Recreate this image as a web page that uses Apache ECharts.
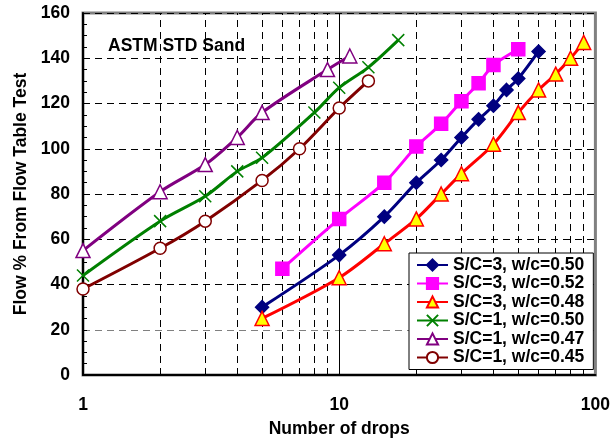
<!DOCTYPE html>
<html>
<head>
<meta charset="utf-8">
<script src="https://cdn.jsdelivr.net/npm/echarts@6/dist/echarts.min.js"></script>
<style>
html,body{margin:0;padding:0;background:#fff;}
#c{width:613px;height:443px;}
</style>
</head>
<body>
<div id="c"></div>
<script>
// ---- data ----
var seriesNames = ['S/C=3, w/c=0.50','S/C=3, w/c=0.52','S/C=3, w/c=0.48','S/C=1, w/c=0.50','S/C=1, w/c=0.47','S/C=1, w/c=0.45'];
var sc3_050_x = [5,10,15,20,25,30,35,40,45,50,60];
var sc3_050_y = [30,53,70,85,95,105,113,119,126,131,143];
var sc3_052_x = [6,10,15,20,25,30,35,40,50];
var sc3_052_y = [47,69,85,101,111,121,129,137,144];
var sc3_048_x = [5,10,15,20,25,30,40,50,60,70,80,90];
var sc3_048_y = [25,43,58,69,80,89,102,116,126,133,140,147];
var sc1_050_x = [1,2,3,4,5,8,10,13,17];
var sc1_050_y = [44,68,79,90,96,116,127,136,148];
var sc1_047_x = [1,2,3,4,5,9,11];
var sc1_047_y = [55,81,93,105,116,135,141];
var sc1_045_x = [1,2,3,5,7,10,13];
var sc1_045_y = [38,56,68,86,100,118,130];
var minorGridX = [2,3,4,5,6,7,8,9,20,30,40,50,60,70,80,90];

function pairs(xs, ys){ return xs.map(function(x,i){ return [x, ys[i]]; }); }

var FONT = 'Arial, "Liberation Sans", sans-serif';
var FS = 17.5;

var chart = echarts.init(document.getElementById('c'), null, {renderer:'canvas'});

var gridMarks = minorGridX.map(function(v){ return {xAxis:v}; });

var crossPath = 'path://M0,0L10,10M10,0L0,10';

function lineSeries(name, xs, ys, color, symbol, size, fill, lw){
  return {
    name: name, type:'line', data: pairs(xs, ys), smooth: 0.3,
    symbol: symbol, symbolSize: size, showSymbol: true,
    lineStyle: {color: color, width: lw},
    itemStyle: {color: fill, borderColor: color, borderWidth: 1.5},
    z: 5
  };
}

var option = {
  backgroundColor: '#fff',
  animation: false,
  textStyle: {fontFamily: FONT},
  title: {
    text: 'ASTM STD Sand', left: 103, top: 32,
    textStyle: {fontSize: FS, fontWeight: 'bold', color: '#000', fontFamily: FONT}
  },
  grid: {left: 83, right: 15, top: 13, bottom: 68, show: true, borderColor: '#808080', borderWidth: 3, backgroundColor: 'transparent'},
  legend: {
    orient: 'vertical', left: 409, top: 253, z: 20,
    backgroundColor: '#fff', borderColor: '#000', borderWidth: 1,
    padding: [3, 9, 3, 7], itemGap: 0.5, itemWidth: 31, itemHeight: 14,
    textStyle: {fontSize: FS, fontWeight: 'bold', color: '#000', fontFamily: FONT, overflow: 'none'},
    data: seriesNames
  },
  xAxis: {
    type: 'log', logBase: 10, min: 1, max: 100,
    name: 'Number of drops', nameLocation: 'middle', nameGap: 45,
    nameTextStyle: {fontSize: FS, fontWeight: 'bold', color: '#000', fontFamily: FONT},
    axisLine: {show: true, lineStyle: {color: '#000', width: 2}},
    axisTick: {show: false},
    axisLabel: {fontSize: FS, fontWeight: 'bold', color: '#000', margin: 21, fontFamily: FONT},
    splitLine: {show: false},
    minorTick: {show: false}, minorSplitLine: {show: false}
  },
  yAxis: {
    type: 'value', min: 0, max: 160, interval: 20,
    name: 'Flow % From Flow Table Test', nameLocation: 'middle', nameGap: 51,
    nameTextStyle: {fontSize: FS, fontWeight: 'bold', color: '#000', fontFamily: FONT},
    axisLine: {show: true, lineStyle: {color: '#000', width: 2}},
    axisTick: {show: true, inside: true, length: 4, lineStyle: {color: '#000'}},
    minorTick: {show: true, splitNumber: 4, length: 4, lineStyle: {color: '#000'}},
    axisLabel: {fontSize: FS, fontWeight: 'bold', color: '#000', margin: 13, fontFamily: FONT},
    splitLine: {show: true, lineStyle: {color: ['#000','#808080','#000','#000','#000','#000','#000','#000','#000'], type: [7,5], width: 1}}
  },
  series: [
    lineSeries(seriesNames[0], sc3_050_x, sc3_050_y, '#000080', 'diamond', 13, '#000080', 3),
    lineSeries(seriesNames[1], sc3_052_x, sc3_052_y, '#FF00FF', 'rect', 13, '#FF00FF', 3),
    lineSeries(seriesNames[2], sc3_048_x, sc3_048_y, '#FF0000', 'triangle', 14, '#FFFF00', 3),
    lineSeries(seriesNames[3], sc1_050_x, sc1_050_y, '#008000', crossPath, 12, '#008000', 3),
    lineSeries(seriesNames[4], sc1_047_x, sc1_047_y, '#800080', 'triangle', 14, '#fff', 3),
    lineSeries(seriesNames[5], sc1_045_x, sc1_045_y, '#800000', 'circle', 12, '#fff', 3),
    {
      name: '_grid', type: 'line', data: [], z: 1, silent: true,
      markLine: {
        z: 1, silent: true, symbol: ['none','none'], label: {show: false},
        lineStyle: {color: '#000', type: [7,5], width: 1},
        emphasis: {disabled: true},
        data: gridMarks.concat([{xAxis: 10, lineStyle: {type: 'solid', color: '#000', width: 1}}])
      }
    }
  ]
};
chart.setOption(option);
</script>
</body>
</html>
